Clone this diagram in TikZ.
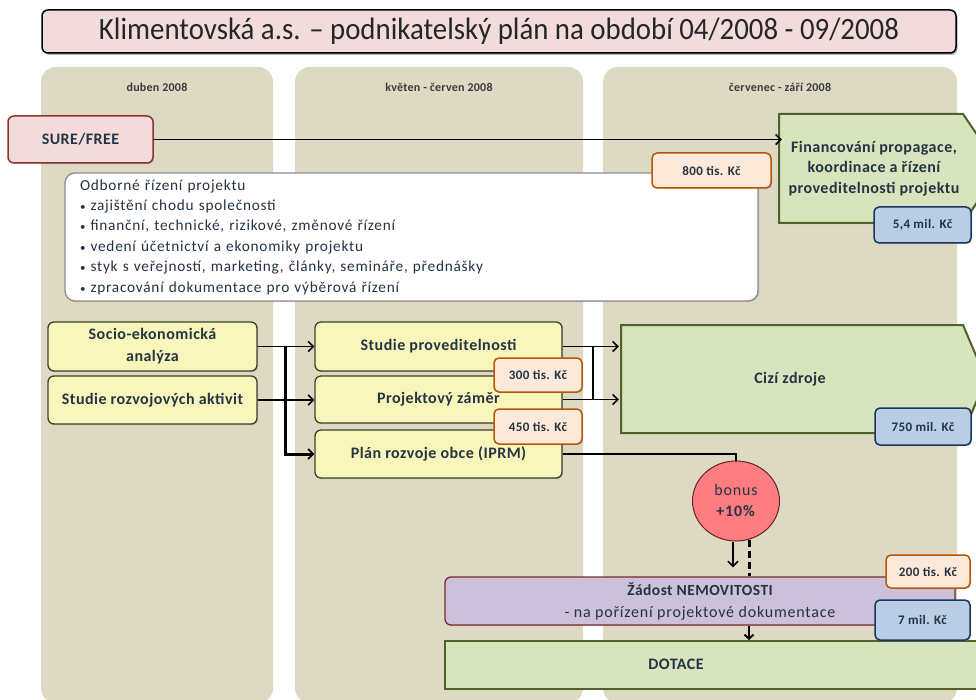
\documentclass[tikz,border=0pt]{standalone}
\usepackage{fontspec}
\setmainfont{Carlito}
\newfontfamily\lsA[LetterSpace=3]{Carlito}
\newfontfamily\lsB[LetterSpace=5]{Carlito}
\newfontfamily\lsC[LetterSpace=2]{Carlito}
\usetikzlibrary{arrows.meta,shadows,shapes.geometric}
\definecolor{colbg}{HTML}{DDD9C3}
\definecolor{txtc}{HTML}{243443}
\definecolor{pinkf}{HTML}{F2DCDB}
\definecolor{pinkd}{HTML}{8C3330}
\definecolor{yelf}{HTML}{F9F6BC}
\definecolor{yeld}{HTML}{3E4127}
\definecolor{grnf}{HTML}{D7E4BD}
\definecolor{grnd}{HTML}{4F6228}
\definecolor{bluf}{HTML}{B9CDE5}
\definecolor{blud}{HTML}{17375E}
\definecolor{pchf}{HTML}{FDE9D9}
\definecolor{pchd}{HTML}{B65708}
\definecolor{redf}{HTML}{FF7C80}
\definecolor{redd}{HTML}{632523}
\definecolor{lavf}{HTML}{CCC0DA}
\definecolor{lavd}{HTML}{7A2B2B}
\definecolor{hdrc}{HTML}{3A3A3A}
\definecolor{grayd}{HTML}{8C8C8C}
\begin{document}
\begin{tikzpicture}[x=1pt,y=-1pt,
  shad/.style={drop shadow={opacity=0.3,shadow xshift=1.2pt,shadow yshift=-1.2pt}},
  nb/.style={inner sep=0pt, align=center, text=txtc},
  colbox/.style={nb, fill=colbg, rounded corners=15pt},
  hdr/.style={nb, text=hdrc, font=\lsC\fontsize{12}{14}\selectfont\bfseries},
  ybox/.style={nb, shad, fill=yelf, draw=yeld, line width=1.3pt, rounded corners=6pt, font=\lsA\fontsize{16}{22}\selectfont\bfseries},
  tagbox/.style={nb, shad, line width=1.5pt, rounded corners=5pt, font=\lsA\fontsize{13}{15}\selectfont\bfseries},
  peach/.style={tagbox, fill=pchf, draw=pchd},
  bluet/.style={tagbox, fill=bluf, draw=blud},
  gtxt/.style={nb, font=\lsA\fontsize{16}{20.5}\selectfont\bfseries},
  pent/.style={shad, fill=grnf, draw=grnd, line width=2pt},
  arr/.style={line width=1.6pt, -{Straight Barb[length=5pt,width=10pt,line width=1.6pt]}},
  arrb/.style={line width=3pt, -{Straight Barb[length=5pt,width=10pt,line width=1.8pt]}},
  conn/.style={line width=2pt}
]
\useasboundingbox (0,0) rectangle (976,700);
\fill[white] (0,0) rectangle (976,700);

% title
\node[nb, fill=pinkf, draw=black, line width=1.5pt, rounded corners=6pt,
  drop shadow={opacity=0.6,shadow xshift=1.5pt,shadow yshift=-2pt},
  minimum width=914, minimum height=43, text=black!85,
  font=\fontsize{31}{34}\selectfont] (title) at (499,31.5)
  {\scalebox{0.93}[1]{Klimentovská a.s. – podnikatelský plán na období 04/2008 - 09/2008}};

% columns
\node[colbox, minimum width=232, minimum height=636] (col1) at (157,385) {};
\node[colbox, minimum width=288, minimum height=636] (col2) at (439,385) {};
\node[colbox, minimum width=354, minimum height=636] (col3) at (780,385) {};
\node[hdr] (h1) at (157,87) {duben 2008};
\node[hdr] (h2) at (439,87) {květen - červen 2008};
\node[hdr] (h3) at (780,87) {červenec - září 2008};

% SURE/FREE
\node[nb, shad, fill=pinkf, draw=pinkd, line width=1.5pt, rounded corners=6pt,
  minimum width=145, minimum height=47, font=\lsA\fontsize{16}{18}\selectfont\bfseries] (sure) at (80.5,139.5) {SURE/FREE};

% Odborne rizeni
\node[nb, shad, fill=white, draw=grayd, line width=1.3pt, rounded corners=10pt,
  minimum width=693, minimum height=128, inner xsep=15pt, text width=663pt, align=left,
  font=\lsB\fontsize{15.3}{20.4}\selectfont] (odb) at (411.5,237)
  {Odborné řízení projektu\\
   {\fontsize{11}{11}\selectfont •} zajištění chodu společnosti\\
   {\fontsize{11}{11}\selectfont •} finanční, technické, rizikové, změnové řízení\\
   {\fontsize{11}{11}\selectfont •} vedení účetnictví a ekonomiky projektu\\
   {\fontsize{11}{11}\selectfont •} styk s veřejností, marketing, články, semináře, přednášky\\
   {\fontsize{11}{11}\selectfont •} zpracování dokumentace pro výběrová řízení};
\node[peach, minimum width=119, minimum height=35] (t800) at (711.5,170.5) {800 tis. Kč};

% Financovani pentagon
\path[pent] (779,114) -- (963,114) -- (1000,168.5) -- (963,223) -- (779,223) -- cycle;
\node[gtxt, minimum width=184, minimum height=109] (fin) at (874,168.5)
  {Financování propagace,\\koordinace a řízení\\proveditelnosti projektu};
\node[bluet, minimum width=97, minimum height=36] (m54) at (922.5,225) {5,4 mil. Kč};

% left boxes
\node[ybox, minimum width=209, minimum height=49] (soc) at (152.5,346.5) {Socio-ekonomická\\analýza};
\node[ybox, minimum width=209, minimum height=48] (sra) at (152.5,400) {Studie rozvojových aktivit};

% middle boxes
\node[ybox, minimum width=247, minimum height=49] (sp) at (438.5,346.5) {Studie proveditelnosti};
\node[ybox, minimum width=247, minimum height=47] (pz) at (438.5,399.5) {Projektový záměr};
\node[ybox, minimum width=247, minimum height=48] (plan) at (438.5,454) {Plán rozvoje obce (IPRM)};
\node[peach, minimum width=88, minimum height=34] (t300) at (538,375) {300 tis. Kč};
\node[peach, minimum width=88, minimum height=35] (t450) at (538,426.5) {450 tis. Kč};

% Cizi zdroje pentagon
\path[pent] (621,325) -- (963,325) -- (986,379) -- (963,433) -- (621,433) -- cycle;
\node[gtxt, minimum width=342, minimum height=108] (ciz) at (790,379) {Cizí zdroje};
\node[bluet, minimum width=96, minimum height=37] (m750) at (923,426.5) {750 mil. Kč};

% bonus
\node[nb, ellipse, fill=redf, draw=redd, line width=1pt, minimum width=87, minimum height=80,
  font=\lsB\fontsize{16}{21}\selectfont] (bonus) at (736,501) {bonus\\\textbf{+10\%}};

% Zadost and DOTACE
\node[nb, shad, fill=lavf, draw=lavd, line width=1.3pt, rounded corners=6pt,
  minimum width=510, minimum height=48, font=\lsB\fontsize{16}{22}\selectfont] (zad) at (700,601)
  {{\lsA\fontsize{15.5}{22}\selectfont\bfseries Žádost NEMOVITOSTI}\\- na pořízení projektové dokumentace};
\node[nb, shad, fill=grnf, draw=grnd, line width=2pt, minimum width=560, minimum height=48] (dot) at (725,665) {};
\node[gtxt] (dotlabel) at (676,664) {DOTACE};
\node[peach, minimum width=84, minimum height=33] (t200) at (928,571.5) {200 tis. Kč};
\node[bluet, minimum width=95, minimum height=40] (m7) at (922.5,620) {7 mil. Kč};

% connectors
\draw[arr] (sure.east) -- (sure.east -| fin.west);
\draw[arr] (soc.east) -- (soc.east -| sp.west);
\draw[arr] (sra.east) -- (sra.east -| pz.west);
\coordinate (j1) at (285,346.5);
\draw[arrb] (j1) |- (plan.west);
\draw[arr] (sp.east) -- (sp.east -| ciz.west);
\draw[arr] (pz.east) -- (pz.east -| ciz.west);
\coordinate (j2) at (593,346.5);
\draw[line width=2.5pt] (j2) -- (j2 |- pz.east);
\draw[conn] (plan.east) -| (bonus.north);
\draw[arr, line width=2pt, shorten >=9pt] ([xshift=-3pt]bonus.south) -- ([xshift=-3pt]bonus.south |- zad.north);
\draw[line width=3pt, dash pattern=on 7pt off 4pt] ([xshift=13pt,yshift=2pt]bonus.south) -- ([xshift=13pt]bonus.south |- zad.north);
\draw[line width=2.5pt, -{Straight Barb[length=4pt,width=9pt,line width=2pt]}] ([xshift=49pt]zad.south) -- ([xshift=49pt]zad.south |- dot.north);
\end{tikzpicture}
\end{document}
